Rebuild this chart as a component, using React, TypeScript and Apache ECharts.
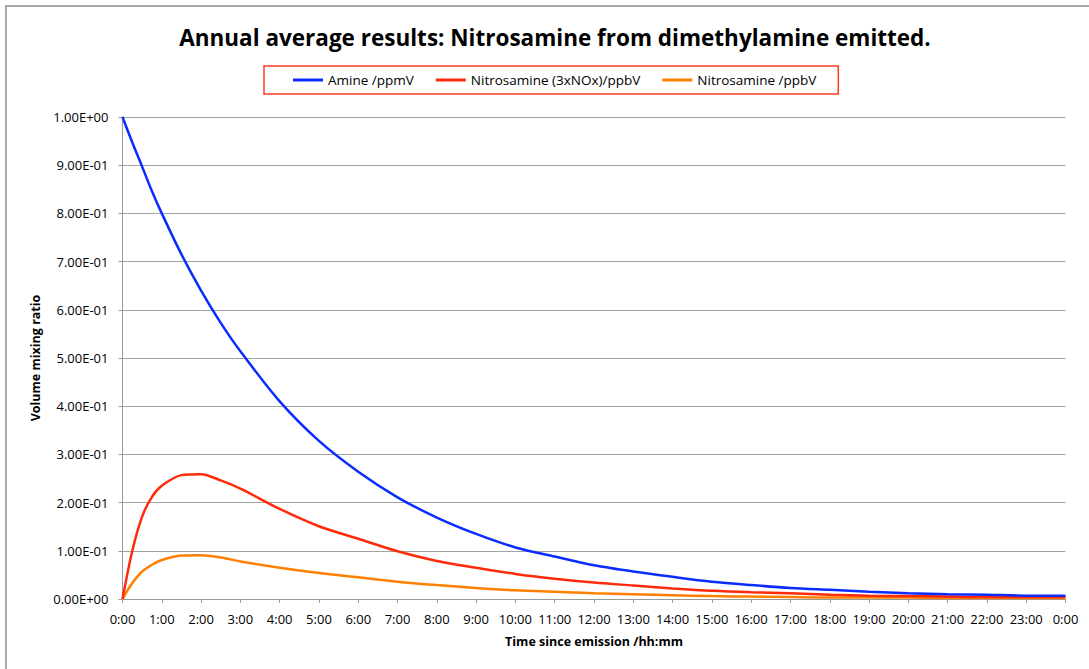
import React, { useEffect, useRef } from "react";
import * as echarts from "echarts";

// Hours since emission at which each series is sampled
const hours = [
  0, 0.25, 0.5, 0.75, 1, 1.5, 2, 2.5, 3, 4, 5, 6, 7, 8, 9, 10, 11, 12, 13, 14,
  15, 16, 17, 18, 19, 20, 21, 22, 23, 24,
];

// Amine /ppmV
const amine = [
  1.0, 0.947, 0.897, 0.846, 0.8, 0.715, 0.64, 0.573, 0.514, 0.41, 0.328, 0.264,
  0.211, 0.169, 0.135, 0.107, 0.088, 0.07, 0.057, 0.046, 0.036, 0.029, 0.023,
  0.019, 0.015, 0.012, 0.01, 0.009, 0.007, 0.007,
];

// Nitrosamine (3xNOx)/ppbV
const nitrosamine3x = [
  0, 0.1, 0.171, 0.212, 0.235, 0.257, 0.259, 0.246, 0.229, 0.187, 0.151,
  0.125, 0.099, 0.079, 0.065, 0.052, 0.042, 0.034, 0.028, 0.022, 0.017, 0.014,
  0.012, 0.009, 0.007, 0.006, 0.005, 0.004, 0.004, 0.004,
];

// Nitrosamine /ppbV
const nitrosamine = [
  0, 0.033, 0.057, 0.071, 0.081, 0.09, 0.091, 0.086, 0.078, 0.065, 0.054,
  0.045, 0.036, 0.029, 0.023, 0.018, 0.015, 0.012, 0.01, 0.008, 0.006, 0.005,
  0.004, 0.003, 0.003, 0.003, 0.002, 0.002, 0.002, 0.002,
];

const seriesNames = ["Amine /ppmV", "Nitrosamine (3xNOx)/ppbV", "Nitrosamine /ppbV"];
const seriesColors = ["#0a2cff", "#ff2a0a", "#ff8000"];

const FONT = "'Open Sans', Lato, sans-serif";

// 1.00E+00 style labels
function sci(v: number): string {
  const [m, e] = v.toExponential(2).split("e");
  const sign = e[0] === "-" ? "-" : "+";
  const digits = e.replace(/[+-]/, "").padStart(2, "0");
  return `${m}E${sign}${digits}`;
}

const pairs = (vals: number[]) => hours.map((h, i) => [h, vals[i]]);

export default function App() {
  const ref = useRef<HTMLDivElement>(null);

  useEffect(() => {
    if (!ref.current) return;
    const chart = echarts.init(ref.current, undefined, { renderer: "svg" });
    const data = [amine, nitrosamine3x, nitrosamine];
    chart.setOption({
      animation: false,
      backgroundColor: "#ffffff",
      graphic: [
        {
          type: "rect",
          shape: { x: 6, y: 6, width: 1200, height: 800 },
          style: { fill: "none", stroke: "#a9a9a9", lineWidth: 2 },
          silent: true,
        },
      ],
      title: {
        text: "Annual average results: Nitrosamine from dimethylamine emitted.",
        left: 550,
        textAlign: "center",
        top: 21,
        textStyle: { fontFamily: FONT, fontSize: 22.5, fontWeight: "bold", color: "#000" },
      },
      legend: {
        left: 264,
        top: 66,
        padding: [7, 22, 7, 29],
        itemGap: 22,
        itemWidth: 30,
        itemHeight: 3,
        icon: "rect",
        borderColor: "#ff3b1f",
        borderWidth: 1.5,
        borderRadius: 0,
        textStyle: { fontFamily: FONT, fontSize: 13.5, color: "#000" },
        data: seriesNames,
      },
      grid: { left: 122.5, right: 23.5, top: 117, bottom: 70, containLabel: false },
      xAxis: {
        type: "value",
        min: 0,
        max: 24,
        interval: 1,
        name: "Time since emission /hh:mm",
        nameLocation: "middle",
        nameGap: 36,
        nameTextStyle: { fontFamily: FONT, fontSize: 12.5, fontWeight: "bold", color: "#000" },
        axisLine: { show: true, lineStyle: { color: "#9a9a9a", width: 1 } },
        axisTick: { show: true, length: 4, lineStyle: { color: "#9a9a9a" } },
        axisLabel: {
          fontFamily: FONT,
          fontSize: 13,
          color: "#000",
          margin: 13,
          formatter: (v: number) => `${v % 24}:00`,
        },
        splitLine: { show: false },
      },
      yAxis: {
        type: "value",
        min: 0,
        max: 1,
        interval: 0.1,
        name: "Volume mixing ratio",
        nameLocation: "middle",
        nameGap: 71,
        nameTextStyle: { fontFamily: FONT, fontSize: 12.5, fontWeight: "bold", color: "#000" },
        axisLine: { show: true, lineStyle: { color: "#9a9a9a", width: 1 } },
        axisTick: { show: true, length: 4, lineStyle: { color: "#9a9a9a" } },
        axisLabel: {
          fontFamily: FONT,
          fontSize: 13,
          color: "#000",
          margin: 14,
          formatter: (v: number) => sci(v),
        },
        splitLine: { show: true, lineStyle: { color: "#a3a3a3", width: 1 } },
      },
      series: seriesNames.map((name, i) => ({
        name,
        type: "line",
        data: pairs(data[i]),
        smooth: 0.3,
        showSymbol: false,
        symbol: "none",
        lineStyle: { color: seriesColors[i], width: 2.5 },
        itemStyle: { color: seriesColors[i] },
        z: 3 - i,
      })),
    });
    return () => chart.dispose();
  }, []);

  return (
    <div
      ref={ref}
      style={{ position: "absolute", left: 0, top: 0, width: 1089, height: 669 }}
    />
  );
}
